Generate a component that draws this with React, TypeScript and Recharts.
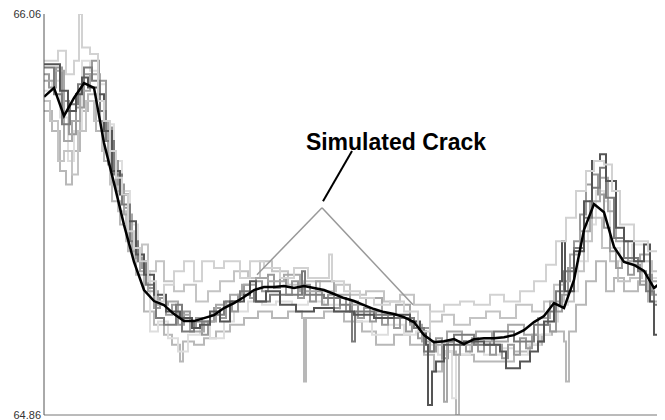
import React from "react";
import { LineChart, Line, XAxis, YAxis, ReferenceLine, ReferenceDot } from "recharts";

// x is the sample position along the scan, value is the measured reading
const meanX = [
  0, 10, 20, 30, 40, 50, 60, 70, 80, 90, 100, 110, 120, 130, 140, 150, 160, 170, 180, 190,
  200, 210, 220, 230, 240, 250, 260, 270, 280, 290, 300, 310, 320, 330, 340, 350, 360, 370, 380, 390,
  400, 410, 420, 430, 440, 450, 460, 470, 480, 490, 500, 510, 520, 530, 540, 550, 560, 570, 580, 590,
  600, 610, 616,
];
const meanV = [
  65.812, 65.839, 65.755, 65.809, 65.853, 65.839, 65.674, 65.554, 65.429, 65.318, 65.234, 65.201, 65.189, 65.162, 65.141, 65.141, 65.150, 65.159, 65.180, 65.195,
  65.213, 65.234, 65.243, 65.243, 65.246, 65.240, 65.246, 65.240, 65.234, 65.222, 65.210, 65.201, 65.189, 65.177, 65.168, 65.162, 65.153, 65.138, 65.099, 65.078,
  65.081, 65.087, 65.072, 65.087, 65.090, 65.090, 65.093, 65.099, 65.114, 65.138, 65.156, 65.195, 65.180, 65.264, 65.414, 65.491, 65.467, 65.363, 65.318, 65.309,
  65.291, 65.240, 65.255,
];

const run1: [number, number][] = [
  [0, 65.92], [6, 65.92], [14, 65.95], [22, 65.88], [30, 65.92], [35, 66.06], [38, 65.96], [46, 65.94], [54, 65.8], [60, 65.74],
  [66, 65.65], [72, 65.57], [78, 65.52], [84, 65.41], [90, 65.36], [96, 65.32], [104, 65.26], [112, 65.2], [120, 65.25], [130, 65.29],
  [140, 65.32], [150, 65.26], [158, 65.32], [170, 65.3], [180, 65.32], [196, 65.27], [206, 65.32], [220, 65.3], [236, 65.27], [250, 65.3],
  [264, 65.27], [285, 65.34], [288, 65.26], [300, 65.23], [316, 65.21], [330, 65.19], [346, 65.2], [360, 65.17], [374, 65.11], [386, 65.17],
  [400, 65.19], [416, 65.2], [430, 65.19], [446, 65.22], [460, 65.2], [476, 65.23], [490, 65.26], [502, 65.31], [512, 65.38], [522, 65.45],
  [532, 65.53], [542, 65.59], [550, 65.62], [560, 65.61], [568, 65.53], [576, 65.43], [590, 65.38], [604, 65.35], [616, 65.35],
];
const run2: [number, number][] = [
  [0, 65.77], [8, 65.71], [16, 65.59], [22, 65.55], [28, 65.65], [36, 65.77], [44, 65.82], [52, 65.71], [60, 65.62], [68, 65.5],
  [76, 65.43], [84, 65.35], [92, 65.28], [100, 65.17], [110, 65.13], [120, 65.1], [128, 65.07], [136, 65.02], [139, 65.08], [150, 65.07],
  [160, 65.09], [172, 65.11], [186, 65.13], [200, 65.15], [214, 65.17], [228, 65.15], [244, 65.17], [258, 65.15], [260, 64.96], [262, 65.15],
  [280, 65.17], [300, 65.14], [318, 65.11], [332, 65.07], [350, 65.1], [366, 65.07], [380, 65.04], [390, 64.99], [398, 65.05], [412, 64.86],
  [415, 65.04], [430, 65.02], [450, 65.02], [470, 65.05], [486, 65.07], [498, 65.1], [508, 65.11], [520, 65.08], [522, 64.96], [525, 65.11],
  [532, 65.19], [542, 65.26], [552, 65.32], [562, 65.23], [570, 65.27], [580, 65.23], [594, 65.26], [604, 65.2], [616, 65.2],
];
const run3: [number, number][] = [
  [0, 65.86], [10, 65.89], [20, 65.68], [28, 65.74], [36, 65.83], [46, 65.88], [56, 65.74], [64, 65.61], [72, 65.53], [80, 65.46],
  [88, 65.35], [96, 65.29], [104, 65.23], [114, 65.19], [124, 65.2], [134, 65.16], [146, 65.11], [160, 65.14], [172, 65.19], [186, 65.22],
  [198, 65.25], [212, 65.27], [224, 65.26], [240, 65.28], [256, 65.23], [272, 65.26], [290, 65.22], [306, 65.19], [322, 65.21], [338, 65.16],
  [352, 65.19], [366, 65.13], [378, 65.08], [392, 65.07], [400, 64.9], [403, 65.11], [418, 65.07], [432, 65.11], [448, 65.08], [464, 65.13],
  [480, 65.1], [494, 65.15], [506, 65.2], [516, 65.26], [526, 65.34], [536, 65.41], [546, 65.5], [556, 65.57], [564, 65.47], [572, 65.38],
  [584, 65.32], [596, 65.34], [606, 65.26], [616, 65.29],
];
const run4: [number, number][] = [
  [0, 65.9], [10, 65.82], [18, 65.73], [26, 65.79], [34, 65.85], [40, 65.9], [48, 65.86], [56, 65.77], [62, 65.68], [70, 65.58],
  [78, 65.49], [86, 65.38], [94, 65.32], [102, 65.25], [112, 65.15], [120, 65.13], [132, 65.19], [138, 65.11], [150, 65.14], [166, 65.16],
  [180, 65.2], [196, 65.23], [210, 65.2], [226, 65.22], [250, 65.22], [258, 65.29], [261, 65.22], [280, 65.21], [296, 65.19], [306, 65.17],
  [308, 65.08], [311, 65.17], [330, 65.16], [350, 65.15], [370, 65.12], [380, 65.05], [390, 65.08], [410, 65.1], [430, 65.07], [450, 65.11],
  [470, 65.08], [490, 65.13], [504, 65.17], [512, 65.23], [520, 65.29], [530, 65.36], [540, 65.45], [548, 65.54], [556, 65.6], [562, 65.51],
  [570, 65.39], [580, 65.33], [594, 65.29], [602, 65.23], [610, 65.19], [616, 65.2],
];
const run5: [number, number][] = [
  [0, 65.91], [10, 65.91], [16, 65.83], [24, 65.77], [32, 65.82], [38, 65.87], [44, 65.84], [54, 65.82], [60, 65.71], [68, 65.59],
  [76, 65.52], [84, 65.44], [92, 65.34], [100, 65.28], [110, 65.22], [122, 65.17], [136, 65.15], [148, 65.12], [156, 65.13], [166, 65.17],
  [176, 65.14], [186, 65.2], [200, 65.22], [206, 65.26], [212, 65.2], [222, 65.23], [236, 65.19], [252, 65.17], [270, 65.18], [290, 65.17],
  [310, 65.16], [330, 65.15], [350, 65.16], [366, 65.14], [376, 65.11], [382, 65.07], [384, 64.89], [388, 64.99], [392, 65.02], [400, 65.07],
  [420, 65.08], [440, 65.07], [456, 65.05], [462, 65.0], [476, 65.02], [486, 65.05], [494, 65.08], [500, 65.14], [510, 65.19], [516, 65.26],
  [518, 65.38], [521, 65.23], [530, 65.35], [540, 65.5], [548, 65.62], [556, 65.64], [562, 65.56], [572, 65.42], [580, 65.38], [590, 65.32],
  [600, 65.37], [606, 65.2], [610, 65.1], [616, 65.14],
];
const run6: [number, number][] = [
  [0, 65.8], [6, 65.74], [14, 65.62], [20, 65.65], [28, 65.58], [34, 65.71], [42, 65.8], [50, 65.74], [58, 65.65], [66, 65.55],
  [74, 65.47], [82, 65.38], [90, 65.32], [98, 65.37], [104, 65.29], [112, 65.32], [120, 65.26], [130, 65.23], [140, 65.25], [152, 65.2],
  [164, 65.23], [176, 65.26], [190, 65.29], [204, 65.27], [216, 65.32], [228, 65.29], [244, 65.25], [260, 65.26], [276, 65.23], [292, 65.25],
  [306, 65.22], [322, 65.23], [340, 65.2], [356, 65.22], [370, 65.19], [386, 65.14], [398, 65.16], [410, 65.13], [426, 65.15], [442, 65.17],
  [456, 65.15], [472, 65.19], [488, 65.17], [500, 65.2], [510, 65.25], [520, 65.2], [530, 65.29], [540, 65.38], [548, 65.45], [558, 65.36],
  [566, 65.32], [574, 65.26], [586, 65.27], [598, 65.32], [608, 65.29], [616, 65.3],
];
const run7: [number, number][] = [
  [0, 65.83], [8, 65.86], [16, 65.75], [24, 65.62], [30, 65.71], [38, 65.92], [46, 65.89], [54, 65.85], [62, 65.73], [70, 65.62],
  [78, 65.53], [86, 65.43], [94, 65.34], [100, 65.29], [106, 65.11], [114, 65.14], [124, 65.09], [134, 65.05], [144, 65.1], [156, 65.13],
  [166, 65.09], [180, 65.14], [190, 65.17], [204, 65.2], [218, 65.19], [232, 65.2], [248, 65.19], [264, 65.2], [280, 65.19], [296, 65.17],
  [312, 65.14], [328, 65.1], [344, 65.13], [360, 65.1], [372, 65.11], [380, 65.07], [394, 65.04], [402, 65.05], [408, 64.91], [412, 65.04],
  [426, 65.07], [440, 65.04], [456, 65.06], [470, 65.04], [484, 65.07], [496, 65.1], [506, 65.14], [514, 65.19], [524, 65.23], [534, 65.32],
  [544, 65.43], [552, 65.53], [560, 65.5], [566, 65.36], [576, 65.32], [588, 65.37], [600, 65.32], [608, 65.27], [616, 65.29],
];
const run8: [number, number][] = [
  [0, 65.88], [5, 65.84], [12, 65.9], [18, 65.8], [25, 65.7], [32, 65.78], [40, 65.88], [48, 65.92], [55, 65.86], [62, 65.72],
  [68, 65.62], [74, 65.55], [80, 65.48], [86, 65.4], [92, 65.33], [98, 65.3], [104, 65.24], [110, 65.18], [116, 65.21], [122, 65.16],
  [128, 65.19], [134, 65.13], [140, 65.17], [146, 65.12], [152, 65.15], [158, 65.1], [164, 65.14], [170, 65.18], [176, 65.15], [182, 65.2],
  [188, 65.17], [194, 65.22], [200, 65.25], [206, 65.21], [212, 65.26], [218, 65.23], [224, 65.28], [230, 65.24], [236, 65.27], [242, 65.22],
  [248, 65.26], [254, 65.21], [260, 65.25], [266, 65.2], [272, 65.23], [278, 65.19], [284, 65.22], [290, 65.18], [296, 65.21], [302, 65.17],
  [308, 65.2], [314, 65.15], [320, 65.18], [326, 65.14], [332, 65.17], [338, 65.13], [344, 65.16], [350, 65.12], [356, 65.15], [362, 65.11],
  [368, 65.14], [374, 65.09], [380, 65.12], [386, 65.05], [392, 65.09], [398, 65.03], [404, 65.08], [410, 65.04], [416, 65.08], [422, 65.05],
  [428, 65.09], [434, 65.05], [440, 65.08], [446, 65.04], [452, 65.07], [458, 65.03], [464, 65.07], [470, 65.04], [476, 65.09], [482, 65.06],
  [488, 65.1], [494, 65.08], [500, 65.13], [506, 65.11], [512, 65.17], [518, 65.22], [524, 65.3], [530, 65.38], [536, 65.46], [542, 65.55],
  [548, 65.58], [554, 65.52], [560, 65.42], [566, 65.35], [572, 65.3], [578, 65.33], [584, 65.28], [590, 65.31], [596, 65.25], [602, 65.28],
  [608, 65.22], [616, 65.25],
];

const yTicks = [64.86, 66.06];

const runs = [
  { data: run2, color: "#b8b8b8" },
  { data: run7, color: "#dedede" },
  { data: run6, color: "#c4c4c4" },
  { data: run8, color: "#9a9a9a" },
  { data: run3, color: "#a8a8a8" },
  { data: run4, color: "#7c7c7c" },
  { data: run5, color: "#555555" },
  { data: run1, color: "#d2d2d2" },
];

// annotation: label position and leader lines, in chart units
const labelAt = { x: 352, y: 65.676 };
const pointer = [{ x: 308, y: 65.65 }, { x: 279, y: 65.5 }];
const legLeft = [{ x: 278, y: 65.48 }, { x: 213, y: 65.28 }];
const legRight = [{ x: 278, y: 65.48 }, { x: 369, y: 65.19 }];

const toRows = (pts: [number, number][]) => pts.map(([x, v]) => ({ x, v }));

export default function App() {
  const meanRows = meanX.map((x, i) => ({ x, v: meanV[i] }));
  return (
    <LineChart width={657} height={412} data={meanRows} margin={{ top: 6, right: 5, bottom: 0, left: 0 }}>
      <XAxis
        type="number" dataKey="x" domain={[0, 616]} allowDataOverflow
        tick={false} tickLine={false} height={5} stroke="#777"
      />
      <YAxis
        type="number" domain={[64.86, 66.06]} ticks={yTicks} interval={0} allowDataOverflow
        width={36} tickLine={false} tickSize={0} stroke="#555" tickMargin={3}
        tickFormatter={(v) => v.toFixed(2)}
        tick={{ fill: "#333", fontSize: 11, fontFamily: "Arial, 'Liberation Sans', sans-serif" }}
      />
      {runs.map((r, i) => (
        <Line
          key={i} data={toRows(r.data)} dataKey="v" type="stepAfter"
          stroke={r.color} strokeWidth={2} dot={false} isAnimationActive={false}
        />
      ))}
      <Line dataKey="v" type="linear" stroke="#000" strokeWidth={2.5} dot={false} isAnimationActive={false} />
      <ReferenceLine segment={legLeft} stroke="#999" strokeWidth={1.5} ifOverflow="visible" />
      <ReferenceLine segment={legRight} stroke="#999" strokeWidth={1.5} ifOverflow="visible" />
      <ReferenceLine segment={pointer} stroke="#000" strokeWidth={2} ifOverflow="visible" />
      <ReferenceDot
        x={labelAt.x} y={labelAt.y} r={0} fill="none" stroke="none" ifOverflow="visible"
        label={{
          value: "Simulated Crack", position: "center", fill: "#000",
          fontSize: 23, fontWeight: "bold", fontFamily: "Arial, 'Liberation Sans', sans-serif",
        }}
      />
    </LineChart>
  );
}
